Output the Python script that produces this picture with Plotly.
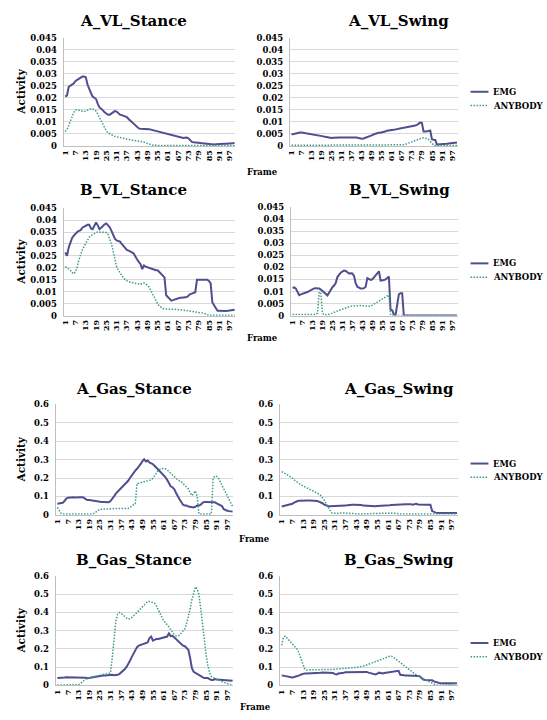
import plotly.graph_objects as go

# ---------------- data ----------------
frames = list(range(1, 101))
x_tick_vals = list(range(1, 100, 6))
x_tick_text = [str(v) for v in x_tick_vals]

vl_tick_vals = [0, 0.005, 0.01, 0.015, 0.02, 0.025, 0.03, 0.035, 0.04, 0.045]
vl_tick_text = ["0", "0.005", "0.01", "0.015", "0.02", "0.025", "0.03", "0.035", "0.04", "0.045"]
gas_tick_vals = [0, 0.1, 0.2, 0.3, 0.4, 0.5, 0.6]
gas_tick_text = ["0", "0.1", "0.2", "0.3", "0.4", "0.5", "0.6"]

series_names = ["EMG", "ANYBODY"]

a_vl_stance_emg = [
    0.0205, 0.021, 0.0245, 0.025, 0.0255, 0.026, 0.027, 0.0275, 0.028, 0.0285,
    0.0288, 0.0288, 0.0285, 0.0255, 0.0235, 0.022, 0.0205, 0.02, 0.0195, 0.0175,
    0.016, 0.0155, 0.0145, 0.014, 0.0135, 0.013, 0.013, 0.0135, 0.014, 0.0145,
    0.0143, 0.0135, 0.013, 0.0128, 0.0125, 0.0123, 0.012, 0.0112, 0.0105, 0.0097,
    0.009, 0.0083, 0.0077, 0.0073, 0.0072, 0.0072, 0.0073, 0.0072, 0.007, 0.007,
    0.0068, 0.0066, 0.0064, 0.0062, 0.006, 0.0058, 0.0056, 0.0054, 0.0052, 0.005,
    0.0048, 0.0046, 0.0044, 0.0042, 0.004, 0.0038, 0.0036, 0.0034, 0.0035, 0.0033,
    0.0034, 0.0035, 0.0032, 0.0025, 0.0017, 0.0016, 0.0016, 0.0015, 0.0014, 0.0013,
    0.0011, 0.001, 0.0008, 0.0007, 0.0006, 0.0005, 0.0005, 0.0006, 0.0007, 0.0008,
    0.0008, 0.0009, 0.0009, 0.0009, 0.0009, 0.0009, 0.0009, 0.001, 0.0011, 0.0013,
]
a_vl_stance_any = [
    0.006, 0.0068, 0.0085, 0.0105, 0.0125, 0.014, 0.015, 0.015, 0.0148, 0.0146,
    0.0144, 0.0143, 0.0145, 0.0149, 0.0152, 0.0155, 0.0154, 0.0151, 0.0145, 0.0132,
    0.0117, 0.0101, 0.0086, 0.0073, 0.0063, 0.0055, 0.005, 0.0046, 0.0043, 0.004,
    0.0038, 0.0036, 0.0034, 0.0032, 0.003, 0.0029, 0.0028, 0.0027, 0.0026, 0.0025,
    0.0024, 0.0023, 0.0022, 0.0021, 0.002, 0.0018, 0.0016, 0.0013, 0.001, 0.0008,
    0.0006, 0.0004, 0.0003, 0.0002, 0.0002, 0.0002, 0.0002, 0.0002, 0.0002, 0.0002,
    0.0002, 0.0002, 0.0002, 0.0002, 0.0002, 0.0002, 0.0002, 0.0002, 0.0002, 0.0002,
    0.0002, 0.0002, 0.0002, 0.0002, 0.0002, 0.0002, 0.0002, 0.0002, 0.0002, 0.0002,
    0.0002, 0.0002, 0.0002, 0.0002, 0.0002, 0.0002, 0.0002, 0.0002, 0.0002, 0.0002,
    0.0002, 0.0002, 0.0002, 0.0002, 0.0002, 0.0002, 0.0002, 0.0002, 0.0002, 0.0002,
]
a_vl_swing_emg = [
    0.0048, 0.005, 0.0052, 0.0054, 0.0055, 0.0056, 0.0056, 0.0055, 0.0053, 0.0051,
    0.005, 0.0049, 0.0048, 0.0046, 0.0045, 0.0044, 0.0043, 0.0042, 0.0041, 0.004,
    0.0038, 0.0036, 0.0034, 0.0033, 0.0033, 0.0034, 0.0035, 0.0035, 0.0035, 0.0035,
    0.0035, 0.0035, 0.0035, 0.0036, 0.0036, 0.0036, 0.0037, 0.0036, 0.0035, 0.0035,
    0.0033, 0.0031, 0.003, 0.0031, 0.0033, 0.0036, 0.0038, 0.0041, 0.0044, 0.0048,
    0.0051, 0.0053, 0.0055, 0.0055, 0.0056, 0.0058, 0.006, 0.0063, 0.0065, 0.0065,
    0.0066, 0.0067, 0.0069, 0.0071, 0.0073, 0.0074, 0.0075, 0.0076, 0.0077, 0.0078,
    0.008, 0.0082, 0.0083, 0.0084, 0.0085, 0.0088, 0.0093, 0.0097, 0.0096, 0.006,
    0.006, 0.006, 0.0062, 0.0064, 0.0028, 0.0026, 0.0025, 0.0006, 0.0006, 0.0007,
    0.0008, 0.0008, 0.0009, 0.0009, 0.001, 0.0011, 0.0012, 0.0013, 0.0014, 0.0015,
]
a_vl_swing_any = [
    0.0003, 0.0003, 0.0003, 0.0003, 0.0003, 0.0003, 0.0003, 0.0003, 0.0003, 0.0003,
    0.0003, 0.0003, 0.0003, 0.0003, 0.0003, 0.0003, 0.0003, 0.0003, 0.0003, 0.0003,
    0.0003, 0.0003, 0.0003, 0.0003, 0.0003, 0.0003, 0.0003, 0.0003, 0.0003, 0.0003,
    0.0003, 0.0003, 0.0003, 0.0003, 0.0003, 0.0003, 0.0003, 0.0003, 0.0003, 0.0003,
    0.0003, 0.0003, 0.0003, 0.0003, 0.0003, 0.0003, 0.0003, 0.0003, 0.0003, 0.0003,
    0.0003, 0.0003, 0.0003, 0.0003, 0.0003, 0.0003, 0.0003, 0.0003, 0.0003, 0.0003,
    0.0003, 0.0003, 0.0003, 0.0003, 0.0003, 0.0003, 0.0004, 0.0005, 0.0007, 0.0009,
    0.0011, 0.0014, 0.0017, 0.002, 0.0023, 0.0026, 0.0029, 0.0031, 0.0033, 0.0034,
    0.0033, 0.0031, 0.0027, 0.002, 0.001, 0.0004, 0.0002, 0.0002, 0.0002, 0.0002,
    0.0002, 0.0002, 0.0002, 0.0002, 0.0002, 0.0002, 0.0002, 0.0002, 0.0002, 0.0002,
]
b_vl_stance_emg = [
    0.0265, 0.025, 0.0285, 0.031, 0.0325, 0.0335, 0.0345, 0.035, 0.0355, 0.0358,
    0.0368, 0.0373, 0.0378, 0.038, 0.038, 0.0365, 0.0362, 0.0378, 0.039, 0.0378,
    0.0362, 0.0368, 0.0376, 0.0382, 0.0386, 0.038, 0.037, 0.0355, 0.0335, 0.0322,
    0.0315, 0.0312, 0.031, 0.03, 0.029, 0.0282, 0.0275, 0.0272, 0.027, 0.0265,
    0.026, 0.0245, 0.0235, 0.0225, 0.0215, 0.0195, 0.021, 0.0205, 0.0202, 0.02,
    0.0197, 0.0194, 0.0192, 0.019, 0.019, 0.0183, 0.0175, 0.0165, 0.016, 0.0085,
    0.0078, 0.007, 0.0063, 0.0065, 0.0068, 0.007, 0.0073, 0.0075, 0.0075, 0.0076,
    0.0077, 0.0078, 0.0083, 0.009, 0.0092, 0.0095, 0.0098, 0.015, 0.015, 0.015,
    0.015, 0.015, 0.015, 0.015, 0.0145, 0.0135, 0.0055, 0.0045, 0.0032, 0.002,
    0.002, 0.0019, 0.0018, 0.0018, 0.0019, 0.002, 0.0021, 0.0023, 0.0025, 0.0025,
]
b_vl_stance_any = [
    0.0205, 0.02, 0.0195, 0.019, 0.018, 0.0175, 0.0185, 0.0205, 0.0235, 0.026,
    0.0275, 0.029, 0.0305, 0.032, 0.0328, 0.0335, 0.034, 0.0345, 0.0348, 0.035,
    0.035, 0.035, 0.035, 0.035, 0.0348, 0.034, 0.032, 0.03, 0.027, 0.023,
    0.0205, 0.019, 0.0178, 0.017, 0.0158, 0.015, 0.0145, 0.0142, 0.014, 0.0138,
    0.0137, 0.0135, 0.0133, 0.013, 0.0131, 0.0135, 0.0137, 0.0133, 0.0127, 0.012,
    0.0105, 0.009, 0.0075, 0.006, 0.005, 0.004, 0.0034, 0.003, 0.0028, 0.0027,
    0.0027, 0.0027, 0.0027, 0.0027, 0.0027, 0.0026, 0.0025, 0.0024, 0.0024, 0.0023,
    0.0022, 0.0021, 0.0021, 0.002, 0.0019, 0.0018, 0.0017, 0.0017, 0.0015, 0.0014,
    0.0012, 0.001, 0.0007, 0.0004, 0.0002, 0.0002, 0.0002, 0.0002, 0.0002, 0.0002,
    0.0002, 0.0002, 0.0002, 0.0002, 0.0002, 0.0002, 0.0002, 0.0002, 0.0002, 0.0002,
]
b_vl_swing_emg = [
    0.0115, 0.0117, 0.0112, 0.0095, 0.0085, 0.0088, 0.009, 0.0092, 0.0095, 0.0098,
    0.0102, 0.0106, 0.011, 0.0113, 0.0114, 0.0114, 0.0113, 0.0108, 0.0102, 0.0095,
    0.009, 0.0084, 0.0095, 0.0108, 0.0118, 0.0125, 0.0135, 0.016, 0.0172, 0.0178,
    0.0183, 0.0187, 0.0185, 0.0178, 0.0175, 0.0176, 0.0175, 0.0165, 0.0135, 0.012,
    0.0115, 0.0112, 0.0112, 0.0114, 0.012, 0.0155, 0.0152, 0.0148, 0.015, 0.0158,
    0.0168, 0.0178, 0.0184, 0.0145, 0.0145, 0.0148, 0.015, 0.0155, 0.0162, 0.0025,
    0.0022, 0.0005, 0.0002, 0.0045, 0.0088, 0.0093, 0.0093, 0.0, 0.0, 0.0,
    0.0, 0.0, 0.0, 0.0, 0.0, 0.0, 0.0, 0.0, 0.0, 0.0,
    0.0, 0.0, 0.0, 0.0, 0.0, 0.0, 0.0, 0.0, 0.0, 0.0,
    0.0, 0.0, 0.0, 0.0, 0.0, 0.0, 0.0, 0.0, 0.0, 0.0,
]
b_vl_swing_any = [
    0.0005, 0.0005, 0.0005, 0.0005, 0.0005, 0.0005, 0.0005, 0.0005, 0.0004, 0.0004,
    0.0003, 0.0002, 0.0002, 0.0003, 0.0005, 0.001, 0.0095, 0.0097, 0.001, 0.0003,
    0.0003, 0.0003, 0.0005, 0.0008, 0.001, 0.0013, 0.0016, 0.0019, 0.0022, 0.0025,
    0.0028, 0.003, 0.0033, 0.0035, 0.0037, 0.0039, 0.004, 0.0041, 0.0041, 0.0042,
    0.0042, 0.0042, 0.0041, 0.004, 0.0039, 0.0038, 0.0037, 0.0039, 0.0043, 0.0047,
    0.005, 0.0054, 0.0058, 0.0063, 0.0068, 0.0073, 0.0078, 0.0083, 0.0085, 0.0002,
    0.0, 0.0, 0.0, 0.0, 0.0, 0.0, 0.0, 0.0, 0.0, 0.0,
    0.0, 0.0, 0.0, 0.0, 0.0, 0.0, 0.0, 0.0, 0.0, 0.0,
    0.0, 0.0, 0.0, 0.0, 0.0, 0.0, 0.0, 0.0, 0.0, 0.0,
    0.0, 0.0, 0.0, 0.0, 0.0, 0.0, 0.0, 0.0, 0.0, 0.0,
]
a_gas_stance_emg = [
    0.06, 0.062, 0.064, 0.065, 0.075, 0.088, 0.093, 0.095, 0.095, 0.095,
    0.094, 0.093, 0.094, 0.095, 0.095, 0.093, 0.085, 0.08, 0.08, 0.078,
    0.077, 0.076, 0.075, 0.073, 0.072, 0.07, 0.07, 0.068, 0.067, 0.068,
    0.075, 0.085, 0.1, 0.115, 0.125, 0.13, 0.14, 0.15, 0.16, 0.17,
    0.185, 0.2, 0.215, 0.23, 0.24, 0.25, 0.26, 0.275, 0.29, 0.302,
    0.29, 0.295, 0.285, 0.28, 0.275, 0.265, 0.255, 0.245, 0.24, 0.23,
    0.22, 0.205, 0.19, 0.17, 0.155, 0.15, 0.14, 0.12, 0.1, 0.085,
    0.07, 0.055, 0.05, 0.05, 0.045, 0.043, 0.04, 0.04, 0.045, 0.05,
    0.05, 0.055, 0.065, 0.07, 0.07, 0.07, 0.07, 0.07, 0.07, 0.068,
    0.062, 0.057, 0.05, 0.048, 0.03, 0.025, 0.022, 0.02, 0.019, 0.018,
]
a_gas_stance_any = [
    0.04, 0.02, 0.008, 0.005, 0.005, 0.005, 0.005, 0.005, 0.005, 0.005,
    0.005, 0.005, 0.005, 0.005, 0.005, 0.005, 0.005, 0.005, 0.005, 0.005,
    0.005, 0.01, 0.018, 0.025, 0.03, 0.03, 0.031, 0.032, 0.033, 0.034,
    0.035, 0.035, 0.035, 0.035, 0.035, 0.035, 0.035, 0.035, 0.035, 0.035,
    0.035, 0.04, 0.05, 0.055, 0.06, 0.17, 0.172, 0.175, 0.178, 0.18,
    0.182, 0.185, 0.187, 0.19, 0.2, 0.215, 0.23, 0.24, 0.248, 0.252,
    0.252, 0.25, 0.245, 0.235, 0.225, 0.215, 0.205, 0.195, 0.19, 0.185,
    0.18, 0.17, 0.16, 0.15, 0.14, 0.12, 0.105, 0.115, 0.13, 0.1,
    0.005, 0.005, 0.005, 0.005, 0.005, 0.005, 0.005, 0.005, 0.2, 0.21,
    0.21, 0.2, 0.18, 0.16, 0.14, 0.12, 0.1, 0.08, 0.06, 0.045,
]
a_gas_swing_emg = [
    0.045, 0.047, 0.048, 0.05, 0.053, 0.057, 0.06, 0.066, 0.072, 0.075,
    0.077, 0.078, 0.078, 0.078, 0.078, 0.078, 0.078, 0.078, 0.078, 0.077,
    0.075, 0.072, 0.068, 0.063, 0.055, 0.05, 0.048, 0.047, 0.047, 0.047,
    0.047, 0.047, 0.047, 0.047, 0.048, 0.049, 0.05, 0.052, 0.054, 0.055,
    0.055, 0.055, 0.055, 0.055, 0.055, 0.053, 0.05, 0.049, 0.048, 0.048,
    0.047, 0.047, 0.048, 0.047, 0.048, 0.048, 0.049, 0.05, 0.05, 0.051,
    0.052, 0.052, 0.053, 0.054, 0.054, 0.055, 0.056, 0.056, 0.057, 0.057,
    0.058, 0.058, 0.06, 0.058, 0.055, 0.057, 0.06, 0.056, 0.055, 0.055,
    0.055, 0.055, 0.055, 0.055, 0.055, 0.02, 0.015, 0.012, 0.01, 0.01,
    0.01, 0.01, 0.01, 0.01, 0.01, 0.01, 0.01, 0.01, 0.01, 0.01,
]
a_gas_swing_any = [
    0.235, 0.23, 0.225, 0.218, 0.212, 0.205, 0.2, 0.19, 0.182, 0.175,
    0.168, 0.162, 0.157, 0.152, 0.148, 0.144, 0.14, 0.136, 0.131, 0.126,
    0.12, 0.113, 0.105, 0.095, 0.08, 0.062, 0.045, 0.028, 0.012, 0.008,
    0.009, 0.01, 0.01, 0.009, 0.01, 0.01, 0.009, 0.008, 0.008, 0.008,
    0.007, 0.006, 0.006, 0.005, 0.005, 0.005, 0.005, 0.005, 0.005, 0.005,
    0.005, 0.005, 0.006, 0.006, 0.006, 0.007, 0.007, 0.007, 0.008, 0.008,
    0.009, 0.01, 0.01, 0.01, 0.009, 0.009, 0.006, 0.005, 0.004, 0.004,
    0.004, 0.004, 0.004, 0.004, 0.004, 0.004, 0.004, 0.004, 0.004, 0.004,
    0.004, 0.004, 0.004, 0.004, 0.004, 0.004, 0.004, 0.004, 0.004, 0.004,
    0.004, 0.004, 0.004, 0.004, 0.004, 0.004, 0.004, 0.004, 0.004, 0.004,
]
b_gas_stance_emg = [
    0.04, 0.04, 0.04, 0.042, 0.043, 0.045, 0.045, 0.045, 0.045, 0.046,
    0.045, 0.045, 0.045, 0.045, 0.045, 0.045, 0.042, 0.04, 0.042, 0.044,
    0.045, 0.046, 0.048, 0.05, 0.05, 0.052, 0.054, 0.055, 0.056, 0.058,
    0.06, 0.058, 0.056, 0.055, 0.058, 0.062, 0.07, 0.078, 0.088, 0.1,
    0.115, 0.135, 0.155, 0.175, 0.195, 0.21, 0.218, 0.222, 0.225, 0.228,
    0.23, 0.235, 0.26, 0.268, 0.245, 0.25, 0.255, 0.255, 0.258, 0.26,
    0.262, 0.265, 0.268, 0.285, 0.27, 0.272, 0.265, 0.255, 0.245, 0.235,
    0.225, 0.218, 0.215, 0.205, 0.195, 0.15, 0.095, 0.075, 0.068, 0.062,
    0.058, 0.05, 0.045, 0.04, 0.04, 0.04, 0.035, 0.03, 0.03, 0.035,
    0.033, 0.032, 0.031, 0.03, 0.03, 0.03, 0.03, 0.028, 0.027, 0.025,
]
b_gas_stance_any = [
    0.002, 0.002, 0.002, 0.002, 0.002, 0.002, 0.002, 0.002, 0.002, 0.002,
    0.002, 0.002, 0.004, 0.01, 0.02, 0.028, 0.035, 0.04, 0.043, 0.046,
    0.048, 0.05, 0.052, 0.054, 0.056, 0.058, 0.06, 0.062, 0.063, 0.065,
    0.068, 0.15, 0.27, 0.35, 0.39, 0.4, 0.395, 0.385, 0.375, 0.37,
    0.365, 0.365, 0.372, 0.38, 0.39, 0.4, 0.41, 0.42, 0.435, 0.445,
    0.455, 0.46, 0.46, 0.458, 0.455, 0.45, 0.435, 0.415, 0.395, 0.375,
    0.355, 0.345, 0.335, 0.32, 0.305, 0.29, 0.28, 0.272, 0.27, 0.275,
    0.285, 0.295, 0.31, 0.34, 0.375, 0.42, 0.47, 0.51, 0.54, 0.53,
    0.495, 0.42, 0.33, 0.24, 0.17, 0.11, 0.07, 0.05, 0.042, 0.038,
    0.034, 0.03, 0.025, 0.02, 0.015, 0.01, 0.007, 0.004, 0.002, 0.001,
]
b_gas_swing_emg = [
    0.055, 0.053, 0.05, 0.048, 0.045, 0.043, 0.044, 0.046, 0.048, 0.052,
    0.055, 0.06, 0.065, 0.066, 0.066, 0.066, 0.066, 0.067, 0.068, 0.068,
    0.069, 0.07, 0.07, 0.071, 0.071, 0.07, 0.07, 0.07, 0.072, 0.068,
    0.062, 0.06, 0.065, 0.068, 0.07, 0.07, 0.072, 0.072, 0.073, 0.074,
    0.075, 0.075, 0.075, 0.074, 0.073, 0.072, 0.072, 0.075, 0.074, 0.07,
    0.068, 0.065, 0.062, 0.06, 0.065, 0.07, 0.068, 0.065, 0.068, 0.07,
    0.07, 0.072, 0.075, 0.078, 0.08, 0.082, 0.08, 0.058, 0.056, 0.055,
    0.055, 0.055, 0.055, 0.054, 0.053, 0.053, 0.052, 0.052, 0.05, 0.04,
    0.032, 0.03, 0.03, 0.03, 0.03, 0.028, 0.022, 0.018, 0.015, 0.013,
    0.012, 0.012, 0.012, 0.011, 0.01, 0.01, 0.01, 0.011, 0.012, 0.012,
]
b_gas_swing_any = [
    0.22, 0.265, 0.27, 0.26, 0.25, 0.24, 0.23, 0.22, 0.21, 0.195,
    0.17, 0.14, 0.11, 0.09, 0.085, 0.085, 0.085, 0.085, 0.085, 0.086,
    0.086, 0.086, 0.087, 0.087, 0.087, 0.088, 0.088, 0.088, 0.088, 0.088,
    0.088, 0.09, 0.09, 0.091, 0.092, 0.093, 0.093, 0.094, 0.095, 0.095,
    0.097, 0.098, 0.099, 0.1, 0.101, 0.103, 0.105, 0.108, 0.112, 0.116,
    0.12, 0.124, 0.128, 0.132, 0.136, 0.14, 0.144, 0.148, 0.152, 0.156,
    0.159, 0.16, 0.16, 0.155, 0.148, 0.14, 0.133, 0.125, 0.118, 0.11,
    0.103, 0.095, 0.088, 0.08, 0.072, 0.064, 0.057, 0.05, 0.045, 0.04,
    0.035, 0.03, 0.025, 0.02, 0.015, 0.01, 0.006, 0.003, 0.001, 0.0,
    0.0, 0.001, 0.002, 0.003, 0.004, 0.005, 0.006, 0.007, 0.008, 0.01,
]

panels = [
    # title, emg, anybody, row, col, kind
    ("A_VL_Stance", a_vl_stance_emg, a_vl_stance_any, 0, 0, "vl"),
    ("A_VL_Swing", a_vl_swing_emg, a_vl_swing_any, 0, 1, "vl"),
    ("B_VL_Stance", b_vl_stance_emg, b_vl_stance_any, 1, 0, "vl"),
    ("B_VL_Swing", b_vl_swing_emg, b_vl_swing_any, 1, 1, "vl"),
    ("A_Gas_Stance", a_gas_stance_emg, a_gas_stance_any, 2, 0, "gas"),
    ("A_Gas_Swing", a_gas_swing_emg, a_gas_swing_any, 2, 1, "gas"),
    ("B_Gas_Stance", b_gas_stance_emg, b_gas_stance_any, 3, 0, "gas"),
    ("B_Gas_Swing", b_gas_swing_emg, b_gas_swing_any, 3, 1, "gas"),
]

# ---------------- layout (pixel geometry) ----------------
W, H = 547, 720
FONT = "DejaVu Serif"
EMG_COLOR = "#4F4F90"
ANY_COLOR = "#3F9A8C"
GRID = "#D9D9D9"
AXIS = "#BFBFBF"
ANY_DASH = "1.5px,1.5px"

rects = {
    (0, 0): (60, 233, 33, 143), (0, 1): (288, 457, 33, 143),
    (1, 0): (60, 233, 206, 315), (1, 1): (289, 457, 205, 315),
    (2, 0): (52, 231, 405, 517), (2, 1): (278, 457, 405, 517),
    (3, 0): (52, 231, 579, 690), (3, 1): (278, 457, 579, 690),
}
title_pos = {
    (0, 0): (130, 16), (0, 1): (397, 16),
    (1, 0): (130, 188), (1, 1): (398, 188),
    (2, 0): (131, 389), (2, 1): (398, 389),
    (3, 0): (131, 563), (3, 1): (398, 563),
}
frame_pos = {0: (260, 169), 1: (260, 338), 2: (252, 542), 3: (253, 712)}
legend_emg_y = {0: 88, 1: 262, 2: 465, 3: 647}

def px_x(v):
    return v / W

def px_y(v):
    return 1 - v / H

fig = go.Figure()
annotations = []
shapes = []
layout = {}

for i, (title, emg, anyb, r, c, kind) in enumerate(panels):
    n = i + 1
    xa = "xaxis" if n == 1 else f"xaxis{n}"
    ya = "yaxis" if n == 1 else f"yaxis{n}"
    xref = "x" if n == 1 else f"x{n}"
    yref = "y" if n == 1 else f"y{n}"
    left, right, top, bottom = rects[(r, c)]
    fig.add_trace(go.Scatter(
        x=frames[:len(emg)], y=emg, mode="lines", name=series_names[0],
        line=dict(color=EMG_COLOR, width=2), xaxis=xref, yaxis=yref,
        showlegend=False, hoverinfo="skip"))
    fig.add_trace(go.Scatter(
        x=frames[:len(anyb)], y=anyb, mode="lines", name=series_names[1],
        line=dict(color=ANY_COLOR, width=1.5, dash=ANY_DASH), xaxis=xref, yaxis=yref,
        showlegend=False, hoverinfo="skip"))
    if kind == "vl":
        tv, tt, yr = vl_tick_vals, vl_tick_text, [0, 0.045]
    else:
        tv, tt, yr = gas_tick_vals, gas_tick_text, [0, 0.6]
    layout[xa] = dict(
        domain=[px_x(left), px_x(right)], anchor=yref, range=[0, 100.4],
        tickmode="array", tickvals=x_tick_vals, ticktext=x_tick_text,
        tickangle=-90, tickfont=dict(family=FONT, size=8, color="#000", weight="bold"),
        showgrid=False, showline=True, linecolor=AXIS, linewidth=1,
        ticks="", zeroline=False, fixedrange=True,
    )
    layout[ya] = dict(
        domain=[px_y(bottom), px_y(top)], anchor=xref, range=yr,
        tickmode="array", tickvals=tv, ticktext=tt,
        tickfont=dict(family=FONT, size=8.5, color="#000", weight="bold"),
        showgrid=True, gridcolor=GRID, gridwidth=1, showline=True,
        linecolor=AXIS, linewidth=1, ticks="", zeroline=False, fixedrange=True,
        ticklabelstandoff=4,
    )
    tx, ty = title_pos[(r, c)]
    annotations.append(dict(
        text=title, x=px_x(tx), y=px_y(ty), xref="paper", yref="paper",
        showarrow=False, xanchor="center", yanchor="middle",
        font=dict(family=FONT, size=15, color="#000", weight="bold")))
    if c == 0:
        annotations.append(dict(
            text="Activity", x=px_x(17), y=px_y((top + bottom) / 2),
            xref="paper", yref="paper", showarrow=False, textangle=-90,
            xanchor="center", yanchor="middle",
            font=dict(family=FONT, size=10.5, color="#000", weight="bold")))
        fx, fy = frame_pos[r]
        annotations.append(dict(
            text="Frame", x=px_x(fx), y=px_y(fy), xref="paper", yref="paper",
            showarrow=False, xanchor="center", yanchor="middle",
            font=dict(family=FONT, size=8.5, color="#000", weight="bold")))
    else:
        # legend key for the row, to the right of the swing chart
        ey = legend_emg_y[r]
        for k, (nm, col, dash, wd) in enumerate([
            (series_names[0], EMG_COLOR, "solid", 2),
            (series_names[1], ANY_COLOR, ANY_DASH, 1.5),
        ]):
            yy = ey + 14 * k
            shapes.append(dict(
                type="line", xref="paper", yref="paper",
                x0=px_x(470), x1=px_x(488), y0=px_y(yy), y1=px_y(yy),
                line=dict(color=col, width=wd, dash=dash)))
            annotations.append(dict(
                text=nm, x=px_x(491), y=px_y(yy), xref="paper", yref="paper",
                showarrow=False, xanchor="left", yanchor="middle",
                font=dict(family=FONT, size=8.5, color="#000", weight="bold")))

fig.update_layout(
    width=W, height=H,
    margin=dict(l=0, r=0, t=0, b=0),
    paper_bgcolor="white", plot_bgcolor="white",
    annotations=annotations, shapes=shapes,
    showlegend=False,
    **layout,
)

fig.write_html(
    "out.html",
    config={"displayModeBar": False, "staticPlot": False},
    post_script="document.body.style.margin='0px';",
)
